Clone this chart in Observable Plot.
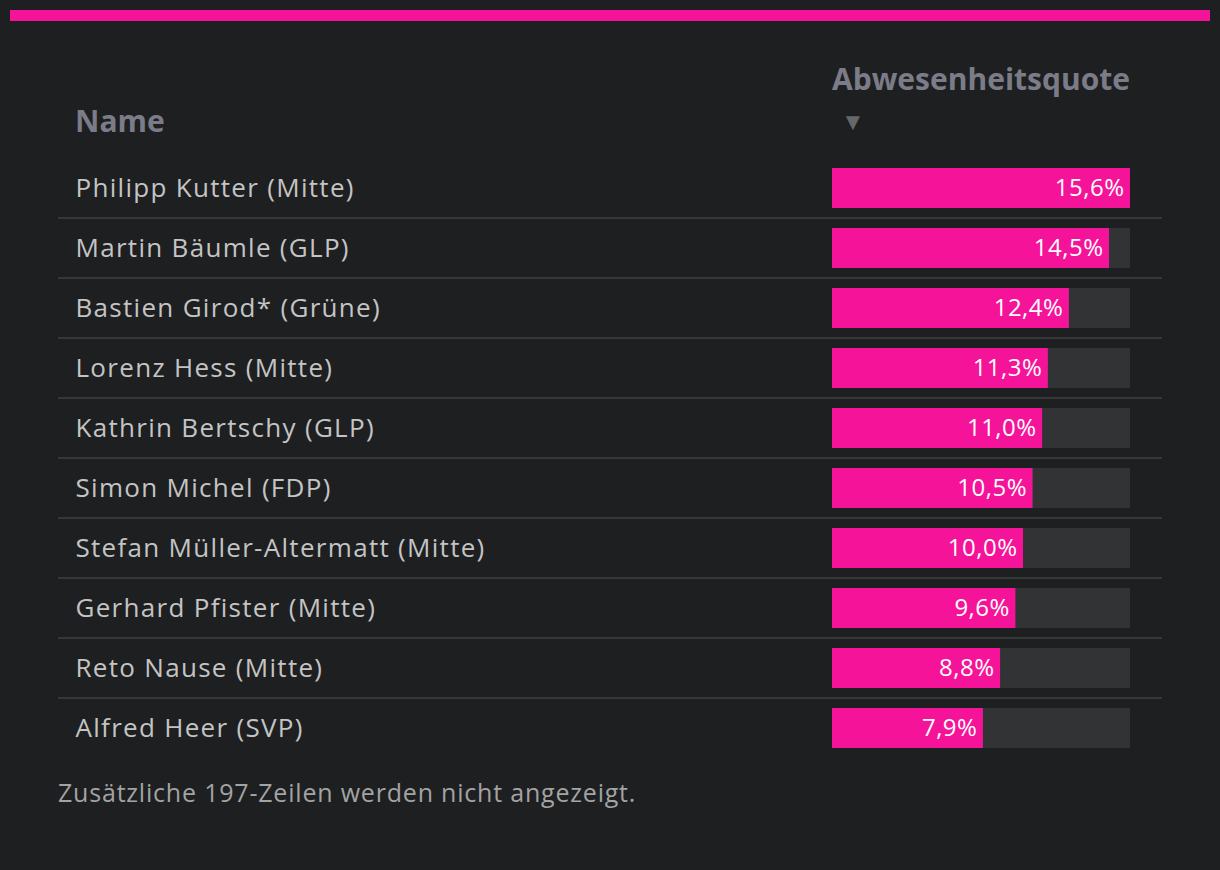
<!DOCTYPE html>
<html><head><meta charset="utf-8">
<script src="https://cdn.jsdelivr.net/npm/d3@7"></script>
<script src="https://cdn.jsdelivr.net/npm/@observablehq/plot@0.6"></script>
<style>
html,body{margin:0;padding:0;background:#1e1f21;width:1220px;height:870px;overflow:hidden;font-family:"Open Sans","Noto Sans",sans-serif;}
#topbar{position:absolute;left:10px;top:10px;width:1200px;height:11px;background:#f5139a;}
.hdr{position:absolute;color:#7b7c88;font-weight:700;font-size:30px;line-height:1;}
#hName{left:75px;top:106px;}
#hVal{left:832px;top:64px;}
#arrow{position:absolute;left:841px;top:109px;color:#66676b;font-size:24px;line-height:1;}
#chart{position:absolute;left:0;top:158px;}
#foot{position:absolute;left:58px;top:780px;color:#a3a3a3;font-size:25px;letter-spacing:0.8px;line-height:1;}
</style></head>
<body>
<div id="topbar"></div>
<div class="hdr" id="hName">Name</div>
<div class="hdr" id="hVal">Abwesenheitsquote</div>
<div id="arrow">▼</div>
<div id="chart"></div>
<div id="foot">Zusätzliche 197-Zeilen werden nicht angezeigt.</div>
<script>
const names = ["Philipp Kutter (Mitte)","Martin Bäumle (GLP)","Bastien Girod* (Grüne)","Lorenz Hess (Mitte)","Kathrin Bertschy (GLP)","Simon Michel (FDP)","Stefan Müller-Altermatt (Mitte)","Gerhard Pfister (Mitte)","Reto Nause (Mitte)","Alfred Heer (SVP)"];
const quotes = [15.6,14.5,12.4,11.3,11.0,10.5,10.0,9.6,8.8,7.9];
const maxQ = d3.max(quotes);
const rows = names.map((n,i)=>({name:n, q:quotes[i], max:maxQ, label:quotes[i].toFixed(1).replace(".",",")+"%"}));
const lined = rows.slice(0,-1);

const chart = Plot.plot({
  width:1220, height:600,
  marginLeft:58, marginRight:58, marginTop:0, marginBottom:0,
  style:{background:"transparent", fontFamily:"'Open Sans', 'Noto Sans', sans-serif"},
  x:{domain:[0,maxQ], range:[832,1130], axis:null},
  y:{domain:names, padding:0, axis:null},
  marks:[
    Plot.ruleY(lined,{y:"name", dy:29.5, stroke:"#36373a", strokeWidth:2}),
    Plot.barX(rows,{y:"name", x:"max", fill:"#323335", insetTop:10, insetBottom:10}),
    Plot.barX(rows,{y:"name", x:"q", fill:"#f5139a", insetTop:10, insetBottom:10}),
    Plot.text(rows,{y:"name", x:"q", text:"label", textAnchor:"end", dx:-6, fill:"#ffffff", fontSize:24}),
    Plot.text(rows,{y:"name", text:"name", frameAnchor:"left", textAnchor:"start", dx:17, fill:"#c4c4c4", fontSize:26})
  ]
});
const textGroups = chart.querySelectorAll('g[aria-label="text"]');
if (textGroups[0]) textGroups[0].setAttribute("letter-spacing", "0.5px");
if (textGroups[1]) textGroups[1].setAttribute("letter-spacing", "1.3px");
document.getElementById("chart").appendChild(chart);
</script>
</body></html>
